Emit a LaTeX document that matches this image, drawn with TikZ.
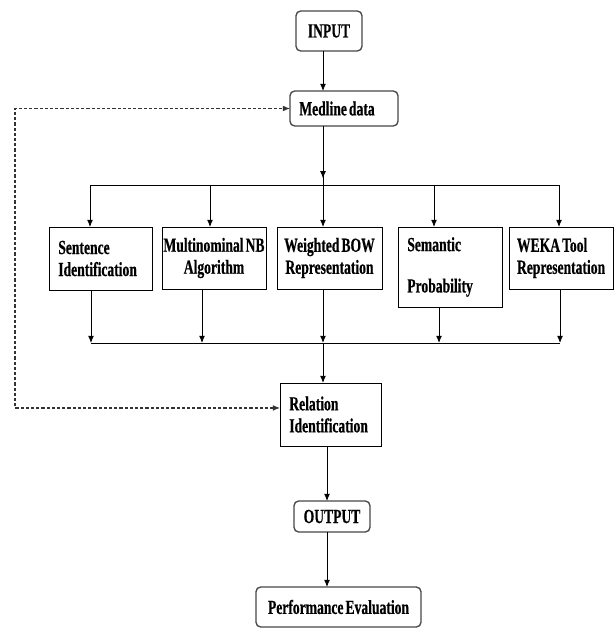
\documentclass[tikz,border=0pt]{standalone}
\usepackage{fontspec}
\setmainfont{Liberation Serif}[FakeStretch=0.68,FakeBold=0.5,WordSpace=0.6]
\usetikzlibrary{arrows.meta}

\begin{document}
\begin{tikzpicture}[
x=0.75pt,
y=-0.75pt,
every node/.style={font=\fontsize{15}{16.5}\selectfont\bfseries,text=black,outer sep=0pt},
stepbox/.style={draw=black,fill=white,line width=0.65pt,inner xsep=7pt,inner ysep=0pt,execute at begin node={\hyphenpenalty=10000\exhyphenpenalty=10000\relax}},
roundbox/.style={draw=black!72,fill=white,line width=1pt,rounded corners=3.5pt,inner xsep=7pt,inner ysep=0pt},
flow/.style={-{Latex[length=5.4pt,width=4.4pt]},line width=0.6pt,draw=black},
bus/.style={line width=0.6pt,draw=black},
feedback/.style={{Latex[length=5.4pt,width=4.4pt]}-{Latex[length=5.4pt,width=4.4pt]},line width=0.8pt,draw=black!80,dash pattern=on 2.4pt off 1.5pt}
]

\path[use as bounding box] (0,0) rectangle (614,628);

\node[roundbox,align=center,minimum width=49.5pt,minimum height=30pt] (input) at (329,31) {INPUT};
\node[roundbox,align=flush left,text width=67pt,minimum height=26.25pt] (medline) at (344,108.5) {Medline data};

\node[stepbox,align=flush left,text width=63.25pt,minimum height=47.25pt] (sentence) at (100.5,258.5) {Sentence\\Identification};
\node[stepbox,align=center,inner xsep=0.5pt,minimum width=78pt,minimum height=46.5pt] (multinb) at (214,258) {Multinominal NB\\Algorithm};
\node[stepbox,align=center,inner xsep=2pt,minimum width=78.75pt,minimum height=46.5pt] (bow) at (329.5,258) {Weighted BOW\\Representation};
\node[stepbox,align=flush left,text width=64pt,minimum height=60pt] (semantic) at (450,267) {Semantic\\[14.5pt]Probability};
\node[stepbox,align=flush left,inner xsep=6pt,text width=66pt,minimum height=46.5pt] (weka) at (561,258) {WEKA Tool\\Representation};

\node[stepbox,align=flush left,text width=61.75pt,minimum height=47.25pt] (relation) at (330.5,414.5) {Relation\\Identification};
\node[roundbox,align=center,minimum width=57pt,minimum height=23.25pt] (output) at (332,516.5) {OUTPUT};
\node[roundbox,align=center,minimum width=123.75pt,minimum height=30pt] (perf) at (338.5,607) {Performance Evaluation};

\coordinate (spine) at (323,0);
\coordinate (spinelow) at (327,0);
\coordinate (loop) at (15,0);
\foreach \n/\x in {sentence/90,multinb/210,bow/323,semantic/434,weka/559}
  \coordinate (top\n) at (\x,185);
\foreach \n/\x in {sentence/91,multinb/202,bow/323,semantic/439,weka/560}
  \coordinate (low\n) at (\x,343);

\draw[flow] (spine |- input.south) -- (spine |- medline.north);
\draw[bus] (spine |- medline.south) -- (topbow);
\draw[flow,shorten >=5pt] (spine |- medline.south) -- (topbow);
\draw[bus] (topsentence) -- (topweka);
\foreach \n in {sentence,multinb,bow,semantic,weka}
  \draw[flow] (top\n) -- (top\n |- \n.north);
\foreach \n in {sentence,multinb,bow,semantic,weka}
  \draw[flow] (low\n |- \n.south) -- (low\n);
\draw[bus] (lowsentence) -- (lowweka);
\draw[flow] (lowbow) -- (spine |- relation.north);
\draw[flow] (spinelow |- relation.south) -- (spinelow |- output.north);
\draw[flow] (spinelow |- output.south) -- (spinelow |- perf.north);

\draw[feedback] ([yshift=4.9pt]relation.west) -| (loop |- medline.west) -- (medline.west);

\end{tikzpicture}
\end{document}
